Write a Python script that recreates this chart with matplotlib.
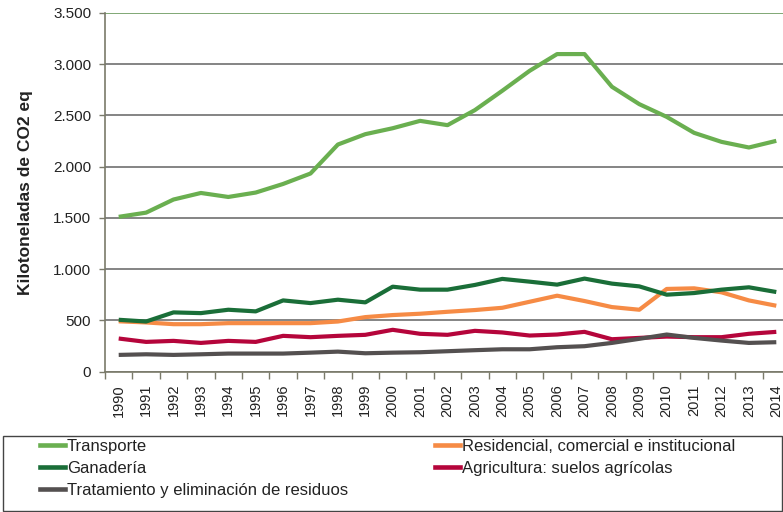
import matplotlib.pyplot as plt
from matplotlib.lines import Line2D
from matplotlib.patches import Rectangle

plt.rcParams['font.family'] = ['Liberation Sans', 'DejaVu Sans']

years = list(range(1990, 2015))

transporte = [1510, 1551, 1679, 1743, 1704, 1747, 1831, 1933, 2216, 2317, 2375,
              2447, 2405, 2552, 2741, 2936, 3099, 3099, 2780, 2610, 2486,
              2330, 2242, 2187, 2252]
residencial = [490, 479, 462, 462, 472, 472, 472, 472, 488, 531, 551,
               564, 583, 600, 622, 681, 740, 688, 629, 603, 806,
               812, 773, 694, 642]
ganaderia = [505, 488, 577, 570, 603, 587, 694, 668, 701, 675, 828,
             799, 799, 845, 904, 877, 848, 907, 858, 831, 750,
             766, 799, 822, 776]
agricultura = [322, 289, 299, 279, 299, 289, 348, 335, 348, 358, 407,
               368, 358, 397, 381, 351, 361, 387, 315, 328, 341,
               335, 335, 368, 387]
residuos = [162, 168, 162, 168, 175, 175, 175, 184, 194, 178, 184,
            188, 198, 208, 217, 217, 237, 247, 279, 319, 361,
            328, 302, 279, 286]

series = [
    ("Transporte", transporte, "#6aaf50"),
    ("Ganadería", ganaderia, "#1a6e38"),
    ("Tratamiento y eliminación de residuos", residuos, "#545050"),
    ("Residencial, comercial e institucional", residencial, "#f68b45"),
    ("Agricultura: suelos agrícolas", agricultura, "#b5053b"),
]
draw_order = [0, 3, 1, 4, 2]

yticks = [0, 500, 1000, 1500, 2000, 2500, 3000, 3500]
ytick_labels = ["0", "500", "1.000", "1.500", "2.000", "2.500", "3.000", "3.500"]

fig = plt.figure(figsize=(7.83, 5.12), dpi=100)
ax = fig.add_axes([105 / 783, 140.5 / 512, 685 / 783, 358.5 / 512])

# horizontal grid
for v in yticks:
    col = "#6b9a5e" if v == 3500 else "#707070"
    ax.axhline(v, color=col, lw=1.2, zorder=1)

x = list(range(len(years)))
for i in draw_order:
    name, vals, col = series[i]
    ax.plot(x, vals, color=col, lw=3, solid_capstyle="butt", zorder=3)

ax.set_xlim(-0.5, len(years) - 0.5)
ax.set_ylim(0, 3500)
ax.set_yticks(yticks)
ax.set_yticklabels(ytick_labels, fontsize=11, color="#222222")
ax.set_xticks(x)
ax.set_xticklabels([str(y) for y in years], rotation=90, fontsize=10.5, color="#222222")
ax.set_xticks([k - 0.5 for k in range(len(years) + 1)], minor=True)
ax.tick_params(axis="x", which="major", length=0, pad=9)
ax.tick_params(axis="x", which="minor", length=5, color="#7a7a6a", width=1)
ax.tick_params(axis="y", length=4, color="#7a7a6a", width=1, pad=6)

for s in ["top", "right"]:
    ax.spines[s].set_visible(False)
for s in ["left", "bottom"]:
    ax.spines[s].set_color("#7a7a6a")
    ax.spines[s].set_linewidth(1.2)

ax.set_ylabel("Kilotoneladas de CO2 eq", fontsize=12.5, fontweight="bold",
              color="#222222")
ax.yaxis.set_label_coords(-0.105, 0.5)

# legend box below the chart
fig.patches.append(Rectangle((3 / 783, 1.5 / 512), 779 / 783, 75 / 512,
                             transform=fig.transFigure, fill=False,
                             edgecolor="#444444", lw=1))

def make_legend(items, x0):
    handles = [Line2D([], [], color=series[i][2], lw=3.3) for i in items]
    labels = [series[i][0] for i in items]
    leg = fig.legend(handles, labels, loc="upper left",
                     bbox_to_anchor=(x0 / 783, 1 - 439 / 512),
                     frameon=False, handlelength=1.5, handletextpad=0.12,
                     labelspacing=0.42, borderpad=0, borderaxespad=0,
                     prop={"size": 12})
    for t in leg.get_texts():
        t.set_color("#222222")
    return leg

make_legend([0, 1, 2], 40)
make_legend([3, 4], 435)

fig.savefig("out.png", dpi=100)
